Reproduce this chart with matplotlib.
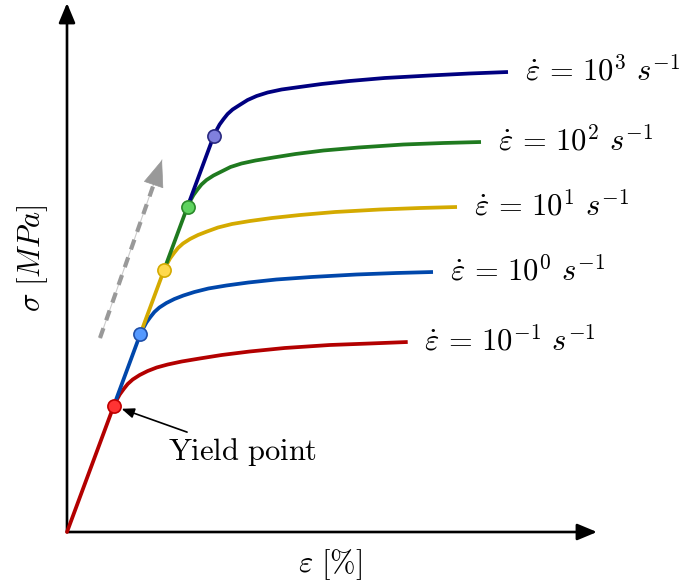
import matplotlib
matplotlib.use("Agg")
import matplotlib.pyplot as plt

plt.rcParams['mathtext.fontset'] = 'cm'

# strain [%] / stress [MPa] of each curve; every curve starts at the origin,
# runs up the elastic line to its yield point, then hardens
rates = [-1, 0, 1, 2, 3]
strain = {
    -1: [0, 0.467, 0.497, 0.527, 0.567, 0.607, 0.657, 0.727, 0.807, 0.897,
         1.007, 1.147, 1.327, 1.547, 1.827, 2.177, 2.627, 3.027, 3.407],
    0: [0, 0.734, 0.764, 0.794, 0.834, 0.874, 0.924, 0.994, 1.074, 1.164,
        1.274, 1.414, 1.594, 1.814, 2.094, 2.444, 2.894, 3.294, 3.660],
    1: [0, 0.970, 1.000, 1.030, 1.070, 1.110, 1.160, 1.230, 1.310, 1.400,
        1.510, 1.650, 1.830, 2.050, 2.330, 2.680, 3.130, 3.530, 3.900],
    2: [0, 1.205, 1.235, 1.265, 1.305, 1.345, 1.395, 1.465, 1.545, 1.635,
        1.745, 1.885, 2.065, 2.285, 2.565, 2.915, 3.365, 3.765, 4.140],
    3: [0, 1.466, 1.496, 1.526, 1.566, 1.606, 1.656, 1.726, 1.806, 1.896,
        2.006, 2.146, 2.326, 2.546, 2.826, 3.176, 3.626, 4.026, 4.410],
}
stress = {
    -1: [0, 252, 264, 275, 286, 296, 305, 314, 322, 329,
         335, 341, 347, 354, 361, 368, 374, 377, 380],
    0: [0, 396.4, 408, 419, 430, 440, 449, 458, 466, 473,
        480, 487, 493, 499, 505, 510, 515, 518, 520],
    1: [0, 523.8, 536, 547, 558, 568, 577, 586, 594, 601,
        609, 616, 622, 628, 634, 640, 645, 648, 650],
    2: [0, 650.7, 663, 674, 685, 695, 704, 713, 721, 730,
        737, 743, 749, 756, 763, 769, 775, 778, 780],
    3: [0, 791.6, 804, 815, 826, 836, 845, 854, 864, 872,
        879, 885, 890, 896, 902, 908, 913, 917, 920],
}
line_colors = {-1: '#b30000', 0: '#0047ab', 1: '#d4aa00', 2: '#1f7a1f', 3: '#000080'}
dot_colors = {-1: ('#ff3333', '#c00000'), 0: ('#5599ff', '#1f4fa8'),
              1: ('#ffd94d', '#d4aa00'), 2: ('#5fd35f', '#2a8a2a'),
              3: ('#8080dd', '#2a2a80')}

fig = plt.figure(figsize=(6.8, 5.85), dpi=100)
ax = fig.add_axes([0, 0, 1, 1])
ax.set_xlim(-0.67, 6.13)
ax.set_ylim(-106, 1064)
ax.axis('off')

# axes drawn as arrows
axis_arrow = dict(arrowstyle='-|>,head_length=0.6,head_width=0.25',
                  color='black', lw=1.9, mutation_scale=20, shrinkA=0, shrinkB=0)
ax.annotate('', xy=(5.30, 0), xytext=(0, 0), arrowprops=axis_arrow)
ax.annotate('', xy=(0, 1058), xytext=(0, 0), arrowprops=axis_arrow)

prev = None
for r in rates:
    c = line_colors[r]
    # elastic part: only the piece above the previous curve's yield point is visible
    lo = 0 if prev is None else 1
    src = r if prev is None else prev
    ax.plot([strain[src][lo], strain[r][1]], [stress[src][lo], stress[r][1]],
            color=c, lw=2.7, solid_capstyle='round', zorder=3)
    # hardening part
    ax.plot(strain[r][1:], stress[r][1:], color=c, lw=2.7,
            solid_capstyle='butt', solid_joinstyle='round', zorder=3)
    ax.annotate(r'$\dot{\varepsilon}\,=\,10^{%d}\ s^{-1}$' % r,
                xy=(strain[r][-1], stress[r][-1]), xytext=(12, 1),
                textcoords='offset points', fontsize=22, va='center', ha='left')
    face, edge = dot_colors[r]
    ax.plot(strain[r][1], stress[r][1], 'o', ms=9.5, mfc=face, mec=edge,
            mew=1.2, zorder=5)
    prev = r

# dashed arrow showing increasing strain rate
arrow_start = (0.33, 388)
arrow_neck = (0.865, 694)
arrow_tip = (0.95, 744)
ax.plot([arrow_start[0], arrow_tip[0]], [arrow_start[1], arrow_tip[1]],
        color='#cccccc', lw=0.8, zorder=2)
ax.plot([arrow_start[0], arrow_neck[0]], [arrow_start[1], arrow_neck[1]],
        color='#999999', lw=3, dashes=(2.5, 2), zorder=2)
ax.annotate('', xy=arrow_tip, xytext=arrow_neck,
            arrowprops=dict(arrowstyle='-|>,head_length=0.9,head_width=0.35',
                            color='#999999', lw=0.5, mutation_scale=20,
                            shrinkA=0, shrinkB=0), zorder=2)

# yield point label
ax.annotate(r'$\mathrm{Yield\ point}$', xy=(strain[-1][1], stress[-1][1]),
            xytext=(39, -33), textcoords='offset points', fontsize=22,
            va='center', ha='left',
            arrowprops=dict(arrowstyle='-|>,head_length=0.5,head_width=0.2',
                            color='black', lw=1.2, mutation_scale=15,
                            shrinkA=2, shrinkB=6))

ax.text(2.63, -66, r'$\varepsilon\ [\%]$', fontsize=22, ha='center', va='center')
ax.text(-0.34, 548, r'$\sigma\ [MPa]$', fontsize=22, ha='center', va='center',
        rotation=90)

fig.savefig('out.png', dpi=100)
